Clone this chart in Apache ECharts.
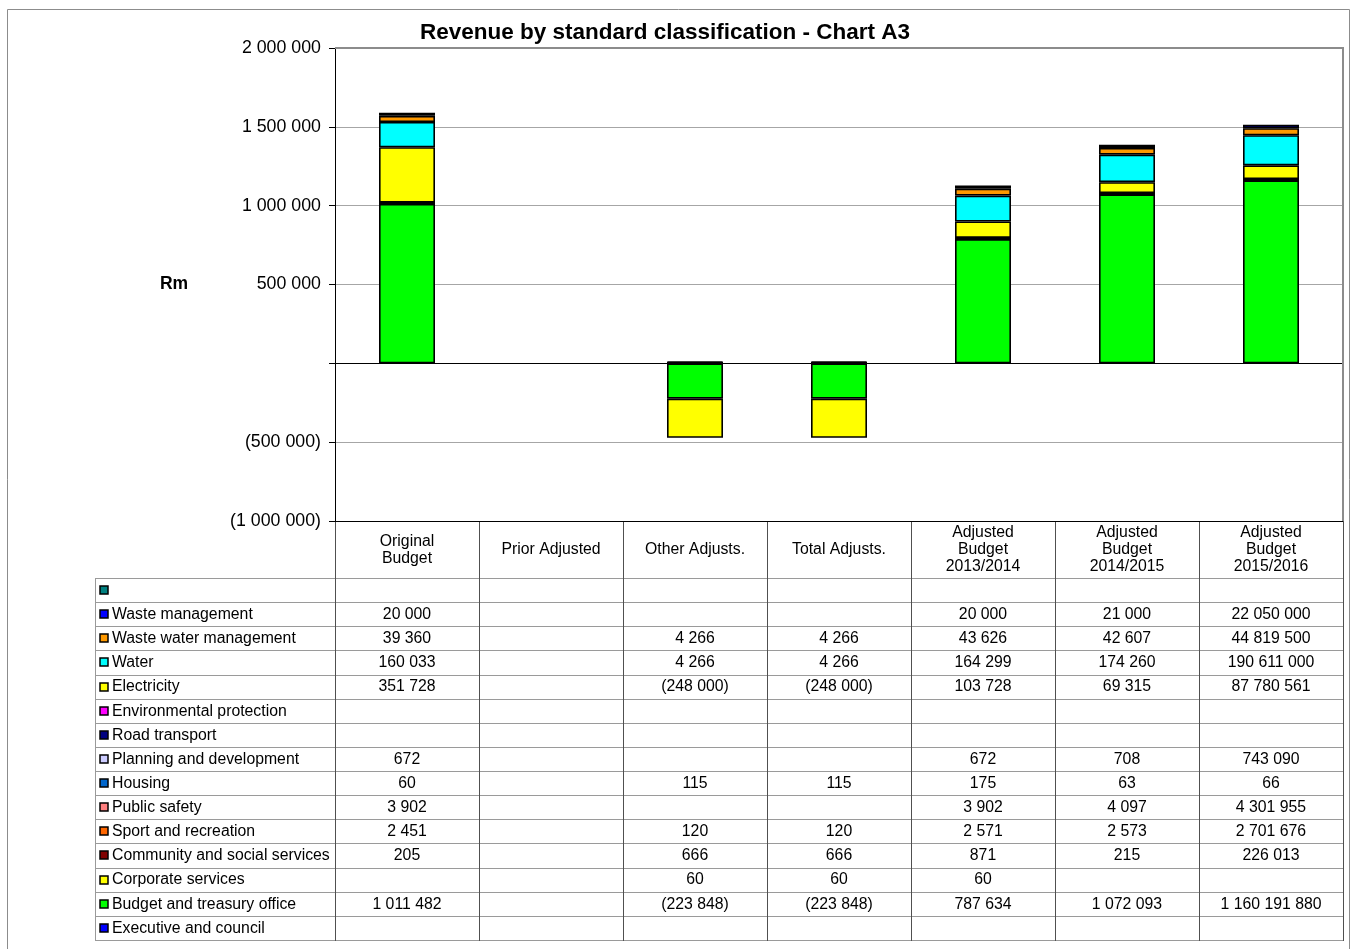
<!DOCTYPE html>
<html>
<head>
<meta charset="utf-8">
<title>Revenue by standard classification - Chart A3</title>
<script src="https://cdn.jsdelivr.net/npm/echarts@6/dist/echarts.min.js"></script>
<style>
  html, body { margin: 0; padding: 0; background: #ffffff; }
  #chart { width: 1359px; height: 949px; }
</style>
</head>
<body>
<div id="chart"></div>
<script>
// Column headings (budget stages)
const categories = [
  'Original\nBudget',
  'Prior Adjusted',
  'Other Adjusts.',
  'Total Adjusts.',
  'Adjusted\nBudget\n2013/2014',
  'Adjusted\nBudget\n2014/2015',
  'Adjusted\nBudget\n2015/2016'
];

// Values as recorded per vote (R thousand; the 2015/2016 column is recorded in rand)
const executiveAndCouncil      = [null, null, null, null, null, null, null];
const budgetAndTreasuryOffice  = [1011482, null, -223848, -223848, 787634, 1072093, 1160191880];
const corporateServices        = [null, null, 60, 60, 60, null, null];
const communityAndSocial       = [205, null, 666, 666, 871, 215, 226013];
const sportAndRecreation       = [2451, null, 120, 120, 2571, 2573, 2701676];
const publicSafety             = [3902, null, null, null, 3902, 4097, 4301955];
const housing                  = [60, null, 115, 115, 175, 63, 66];
const planningAndDevelopment   = [672, null, null, null, 672, 708, 743090];
const roadTransport            = [null, null, null, null, null, null, null];
const environmentalProtection  = [null, null, null, null, null, null, null];
const electricity              = [351728, null, -248000, -248000, 103728, 69315, 87780561];
const water                    = [160033, null, 4266, 4266, 164299, 174260, 190611000];
const wasteWaterManagement     = [39360, null, 4266, 4266, 43626, 42607, 44819500];
const wasteManagement          = [20000, null, null, null, 20000, 21000, 22050000];
const unnamedVote              = [null, null, null, null, null, null, null];

// Factor that brings each column to R thousand for plotting
const columnUnit = [1, 1, 1, 1, 1, 1, 0.001];

// Value axis range and step (Rm)
const yMin = -1000000;
const yMax = 2000000;
const yStep = 500000;

// Series in stacking order (bottom first), with their fill colours
const seriesDefs = [
  { name: 'Executive and council',          values: executiveAndCouncil,     color: '#0000FF' },
  { name: 'Budget and treasury office',     values: budgetAndTreasuryOffice, color: '#00FF00' },
  { name: 'Corporate services',             values: corporateServices,       color: '#FFFF00' },
  { name: 'Community and social services',  values: communityAndSocial,      color: '#800000' },
  { name: 'Sport and recreation',           values: sportAndRecreation,      color: '#FF6600' },
  { name: 'Public safety',                  values: publicSafety,            color: '#FF8080' },
  { name: 'Housing',                        values: housing,                 color: '#0066CC' },
  { name: 'Planning and development',       values: planningAndDevelopment,  color: '#CCCCFF' },
  { name: 'Road transport',                 values: roadTransport,           color: '#000080' },
  { name: 'Environmental protection',       values: environmentalProtection, color: '#FF00FF' },
  { name: 'Electricity',                    values: electricity,             color: '#FFFF00' },
  { name: 'Water',                          values: water,                   color: '#00FFFF' },
  { name: 'Waste water management',         values: wasteWaterManagement,    color: '#FF9900' },
  { name: 'Waste management',               values: wasteManagement,         color: '#0000FF' },
  { name: '',                               values: unnamedVote,             color: '#008080' }
];

const FONT = '"Liberation Sans", Arial, Helvetica, sans-serif';

// 1 011 482 style grouping, negatives in brackets
function fmt(v) {
  if (v === null || v === undefined) return '';
  const s = Math.abs(v).toString().replace(/\B(?=(\d{3})+(?!\d))/g, ' ');
  return v < 0 ? '(' + s + ')' : s;
}

const chart = echarts.init(document.getElementById('chart'));

const option = {
  animation: false,
  backgroundColor: '#ffffff',
  title: {
    text: 'Revenue by standard classification - Chart A3',
    left: 660,
    top: 16,
    textAlign: 'center',
    textStyle: { fontFamily: FONT, fontSize: 22.5, fontWeight: 'bold', color: '#000000' }
  },
  grid: { left: 335, right: 16, top: 48, bottom: 428 },
  xAxis: {
    type: 'category',
    data: categories,
    axisLine: { onZero: true, lineStyle: { color: '#000000', width: 1 } },
    axisTick: { show: false },
    axisLabel: { show: false },
    splitLine: { show: false }
  },
  yAxis: {
    type: 'value',
    min: yMin,
    max: yMax,
    interval: yStep,
    axisLine: { show: true, lineStyle: { color: '#000000', width: 1 } },
    axisTick: { show: true, length: 6, lineStyle: { color: '#000000' } },
    axisLabel: {
      fontFamily: FONT,
      fontSize: 17.8,
      color: '#000000',
      margin: 14,
      formatter: v => (v === 0 ? '' : fmt(v))
    },
    splitLine: { show: true, lineStyle: { color: '#a6a6a6', width: 1 } }
  },
  series: seriesDefs.map(d => ({
    name: d.name,
    type: 'bar',
    stack: 'total',
    barWidth: 56,
    data: d.values.map((v, i) => (v === null ? null : v * columnUnit[i])),
    itemStyle: { color: d.color, borderColor: '#000000', borderWidth: 1.6 }
  }))
};

chart.setOption(option);

// Data table and frame below/around the plot, laid out on the category axis
function buildTable() {
  const cx = categories.map((c, i) => chart.convertToPixel({ xAxisIndex: 0 }, i));
  const colW = cx[1] - cx[0];
  const plotLeft = Math.round(cx[0] - colW / 2);
  const plotRight = Math.round(cx[cx.length - 1] + colW / 2);
  const plotTop = Math.round(chart.convertToPixel({ yAxisIndex: 0 }, yMax));
  const tableTop = Math.round(chart.convertToPixel({ yAxisIndex: 0 }, yMin));
  const headerH = 57;
  const rowH = 24.13;
  const headerBottom = tableTop + headerH;
  const tableRows = seriesDefs.slice().reverse();
  const tableBottom = headerBottom + rowH * tableRows.length;
  const tableLeft = 95;

  const g = [];
  const line = (x1, y1, x2, y2, stroke, w, z) => g.push({
    type: 'line', z: z || 100, silent: true,
    shape: { x1, y1, x2, y2 },
    style: { stroke, lineWidth: w }
  });
  const text = (x, y, t, align, extra) => g.push({
    type: 'text', z: 110, silent: true, x, y,
    style: Object.assign({
      text: t, fill: '#000000', font: '15.8px ' + FONT,
      align, verticalAlign: 'middle', lineHeight: 17
    }, extra || {})
  });

  // outer chart border
  g.push({
    type: 'rect', z: 1, silent: true,
    shape: { x: 7.5, y: 9.5, width: 1342, height: 960 },
    style: { fill: null, stroke: '#8c8c8c', lineWidth: 1 }
  });

  // plot area frame (top and right)
  line(plotLeft, plotTop, plotRight + 1, plotTop, '#8c8c8c', 2, 90);
  line(plotRight, plotTop, plotRight, tableTop, '#8c8c8c', 2, 90);

  // horizontal table lines
  line(plotLeft, tableTop + 0.5, plotRight, tableTop + 0.5, '#000000', 1, 105);
  for (let r = 0; r <= tableRows.length; r++) {
    const y = Math.round(headerBottom + rowH * r) + 0.5;
    line(tableLeft, y, plotRight, y, '#9a9a9a', 1);
  }

  // vertical table lines
  for (let i = 0; i <= categories.length; i++) {
    const x = Math.round(plotLeft + colW * i) + 0.5;
    line(x, tableTop, x, Math.round(tableBottom) + 1, '#505050', 1, 102);
  }
  line(tableLeft + 0.5, headerBottom, tableLeft + 0.5, Math.round(tableBottom) + 1, '#9a9a9a', 1);

  // column headings
  categories.forEach((c, i) => text(cx[i], (tableTop + headerBottom) / 2 + 0.5, c, 'center'));

  // rows: legend key, name, values
  tableRows.forEach((d, r) => {
    const yc = headerBottom + rowH * (r + 0.5);
    g.push({
      type: 'rect', z: 110, silent: true,
      shape: { x: 100, y: Math.round(yc) - 4, width: 8, height: 8 },
      style: { fill: d.color, stroke: '#000000', lineWidth: 1.5 }
    });
    if (d.name) text(112, yc + 0.5, d.name, 'left');
    d.values.forEach((v, i) => {
      if (v !== null) text(cx[i], yc + 0.5, fmt(v), 'center');
    });
  });

  // value axis name
  g.push({
    type: 'text', z: 110, silent: true,
    x: 174, y: (plotTop + tableTop) / 2,
    style: {
      text: 'Rm', fill: '#000000', font: 'bold 17.5px ' + FONT,
      align: 'center', verticalAlign: 'middle'
    }
  });

  chart.setOption({ graphic: { elements: g } });
}

buildTable();
</script>
</body>
</html>
